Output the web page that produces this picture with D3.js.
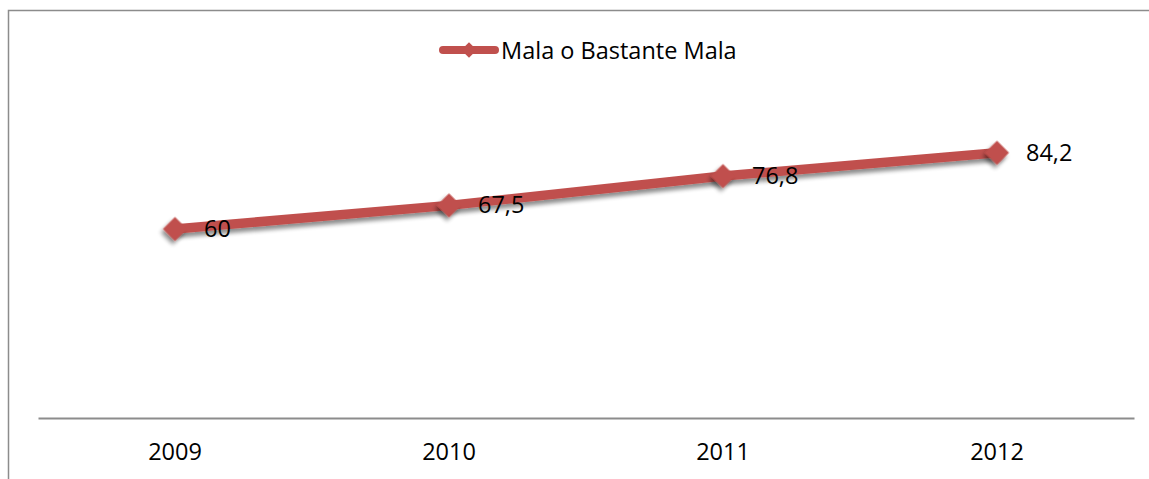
<!DOCTYPE html>
<html><head><meta charset="utf-8">
<script src="https://cdn.jsdelivr.net/npm/d3@7"></script>
<style>body{margin:0;background:#fff;} svg{display:block;}</style>
</head><body>
<svg id="c" width="1149" height="479"></svg>
<script>
const categories = ["2009", "2010", "2011", "2012"];
const values = [60, 67.5, 76.8, 84.2];
const labels = ["60", "67,5", "76,8", "84,2"];
const seriesName = "Mala o Bastante Mala";

const W = 1149, H = 479;
const color = "#C0504D";
const font = "'Open Sans', sans-serif";
const fs = 23.5;
const svg = d3.select("#c");

const defs = svg.append("defs");
const f = defs.append("filter").attr("id","sh").attr("x","-50%").attr("y","-50%").attr("width","200%").attr("height","200%");
f.append("feGaussianBlur").attr("in","SourceAlpha").attr("stdDeviation",2.2).attr("result","b");
f.append("feOffset").attr("in","b").attr("dx",1).attr("dy",4).attr("result","o");
f.append("feComponentTransfer").attr("in","o").attr("result","o2")
  .append("feFuncA").attr("type","linear").attr("slope",0.45);
const m = f.append("feMerge");
m.append("feMergeNode").attr("in","o2");
m.append("feMergeNode").attr("in","SourceGraphic");

// outer border
svg.append("rect").attr("x",8.5).attr("y",10.5).attr("width",W+20).attr("height",H+20)
  .attr("fill","none").attr("stroke","#8c8c8c").attr("stroke-width",1.5);

const x = d3.scaleBand().domain(categories).range([38,1134]);
const y = d3.scaleLinear().domain([0,100]).range([418,103]);

// x axis
const ax = svg.append("g").attr("transform","translate(0,418)")
  .call(d3.axisBottom(x).tickSize(0).tickPadding(0));
ax.select(".domain").attr("stroke","#8c8c8c").attr("stroke-width",2);
ax.selectAll("text").attr("font-family",font).attr("font-size",fs).attr("fill","#000")
  .attr("dy",null).attr("y",42);

const pts = categories.map((c,i)=>({c, v:values[i], l:labels[i]}));
const cx = d => x(d.c) + x.bandwidth()/2;

svg.append("path").datum(pts)
  .attr("d", d3.line().x(cx).y(d=>y(d.v)))
  .attr("fill","none").attr("stroke",color).attr("stroke-width",9.5)
  .attr("stroke-linecap","round").attr("stroke-linejoin","round")
  .attr("filter","url(#sh)");

svg.selectAll(".mk").data(pts).join("path")
  .attr("d", d3.symbol().type(d3.symbolSquare).size(290))
  .attr("transform", d=>`translate(${cx(d)},${y(d.v)}) rotate(45)`)
  .attr("fill",color).attr("filter","url(#sh)");

svg.selectAll(".lb").data(pts).join("text")
  .attr("x", d=>cx(d)+29).attr("y", d=>y(d.v)+8)
  .attr("font-family",font).attr("font-size",fs).attr("fill","#000")
  .text(d=>d.l);

// legend
const lg = svg.append("g");
lg.append("line").attr("x1",443).attr("x2",495).attr("y1",50).attr("y2",50)
  .attr("stroke",color).attr("stroke-width",8).attr("stroke-linecap","round");
lg.append("path").attr("d", d3.symbol().type(d3.symbolSquare).size(120))
  .attr("transform","translate(469,50) rotate(45)").attr("fill",color);
lg.append("text").attr("x",501).attr("y",59).attr("font-family",font).attr("font-size",fs)
  .attr("fill","#000").text(seriesName);
</script>
</body></html>
